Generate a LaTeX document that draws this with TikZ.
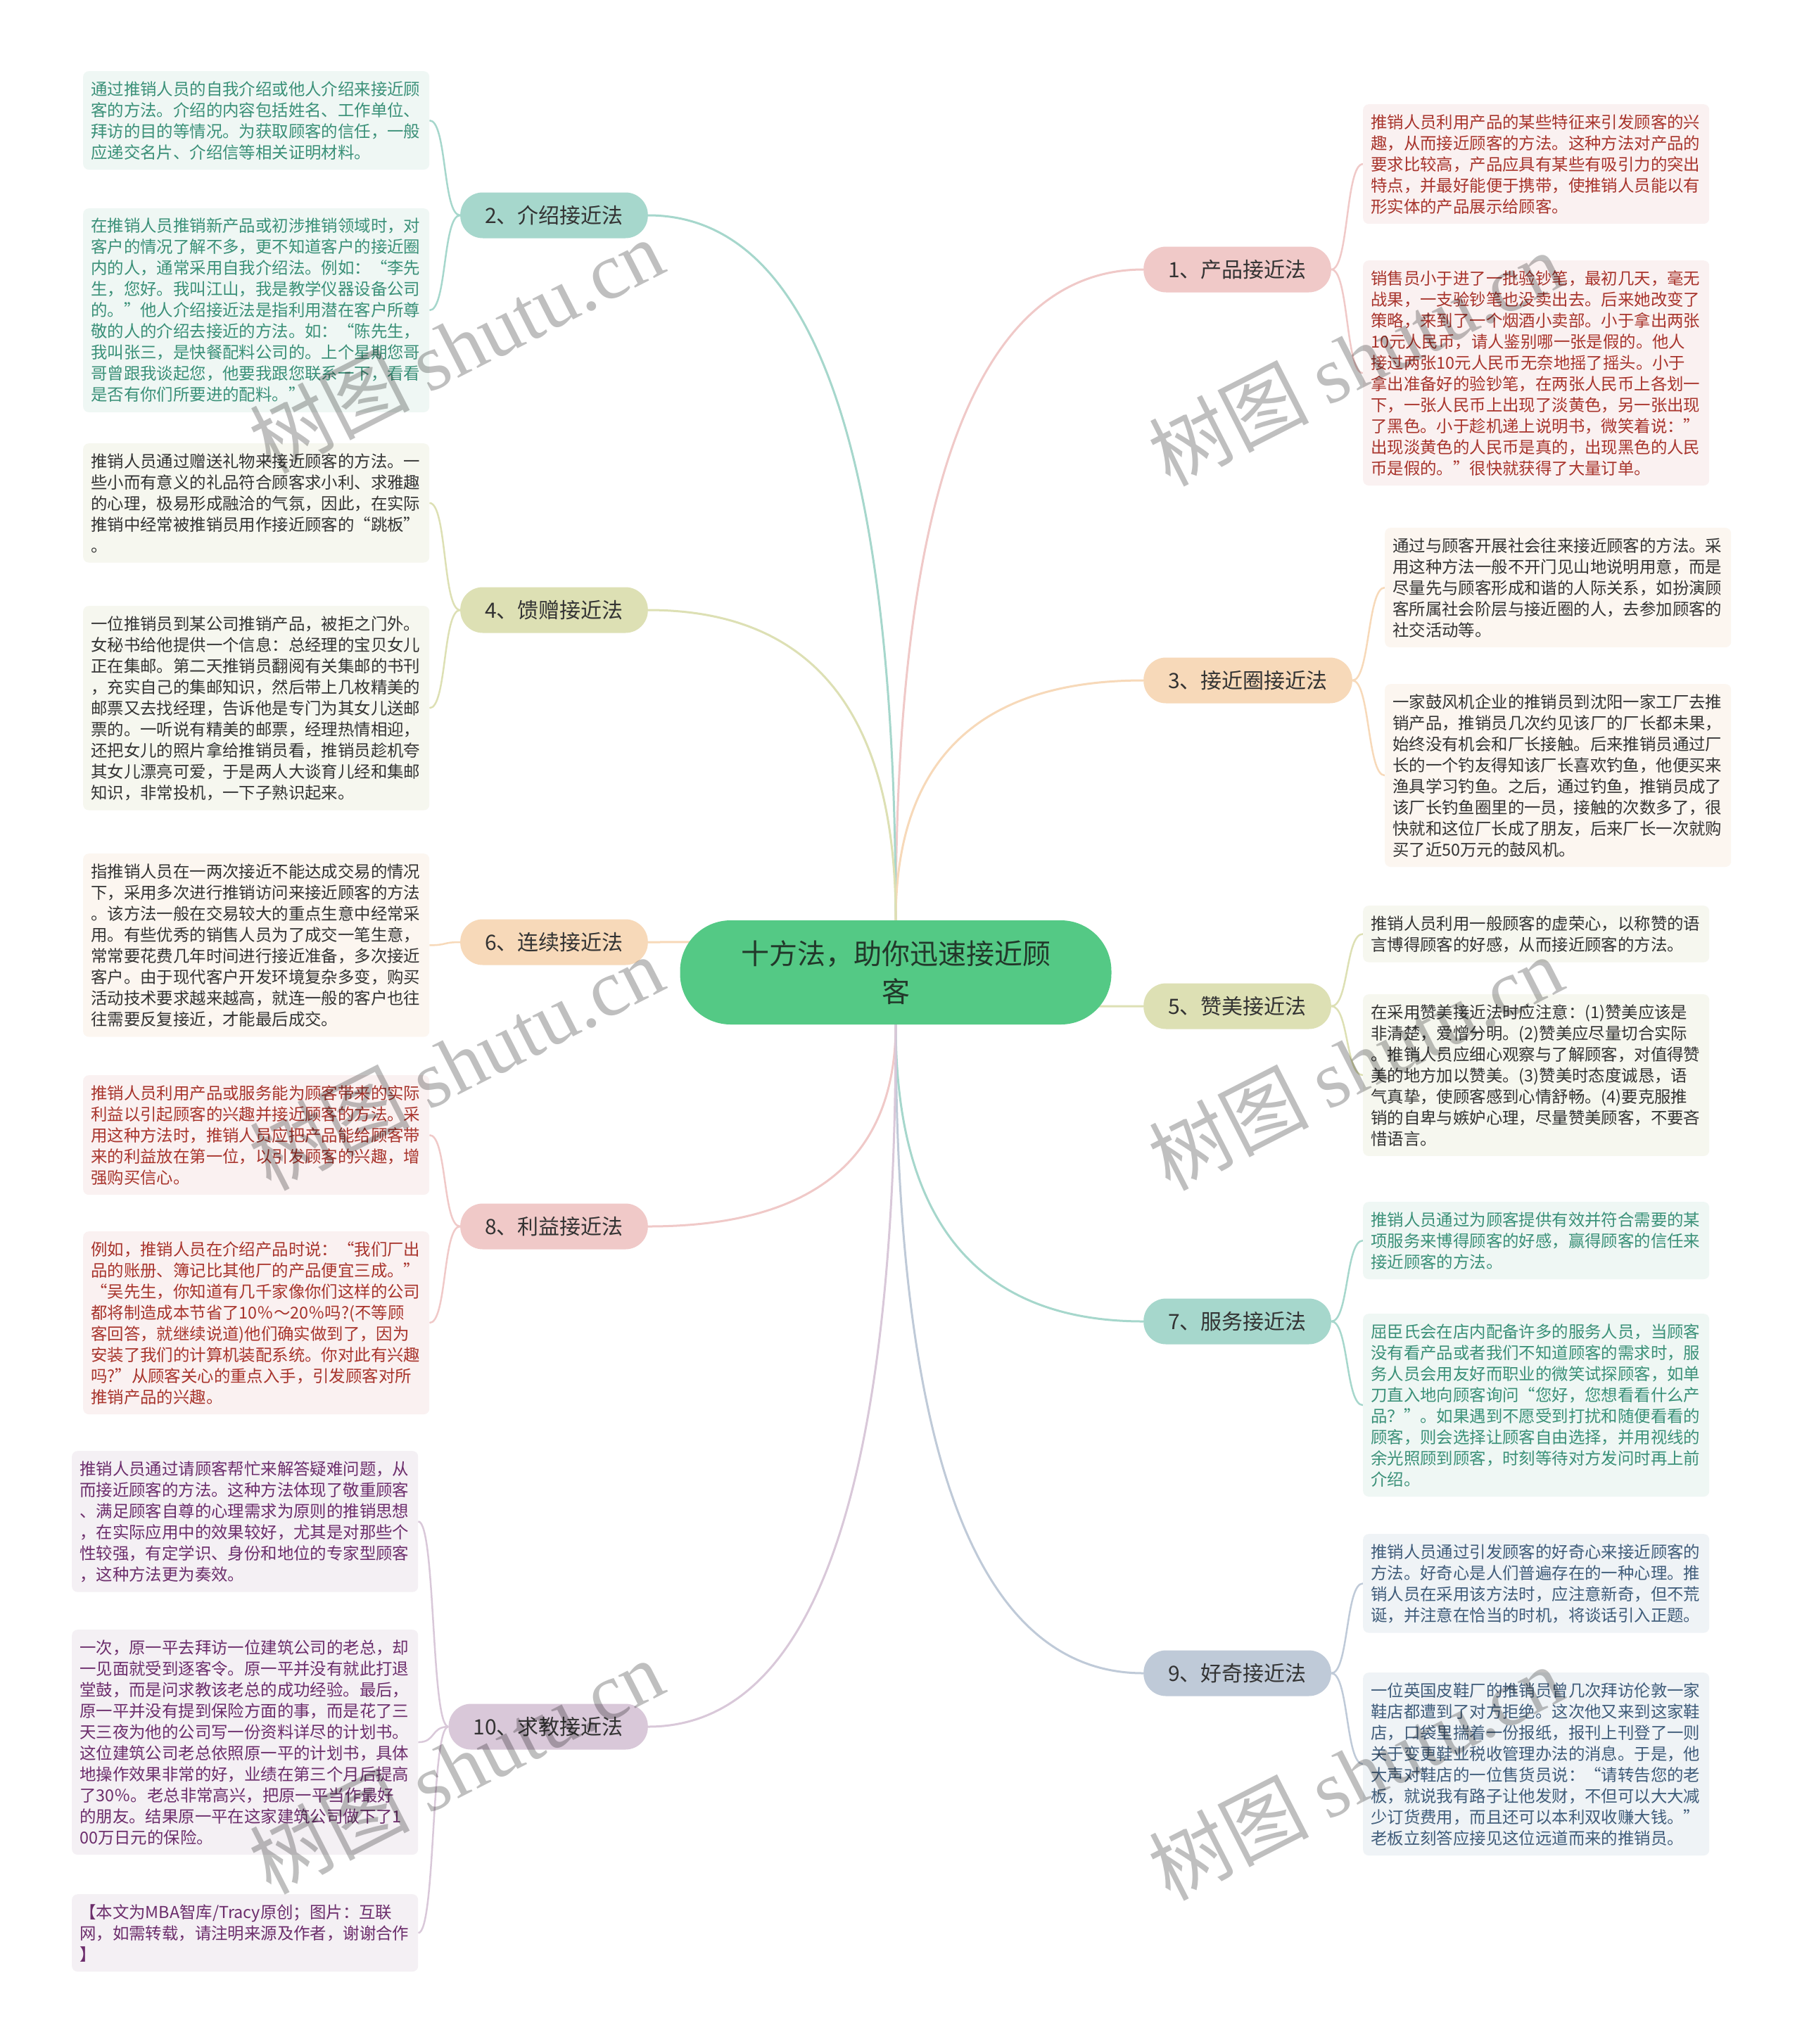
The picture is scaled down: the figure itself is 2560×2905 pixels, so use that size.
\documentclass[tikz,border=0pt]{standalone}
\usepackage{fontspec}
\setmainfont{Noto Sans CJK SC}
\newfontfamily\wmfont{Liberation Serif}
\usetikzlibrary{calc,backgrounds}

%% 配色
\definecolor{rootfill}{HTML}{54C985}
\definecolor{roottext}{HTML}{22382A}
\definecolor{darktext}{HTML}{333333}
\definecolor{pkpill}{HTML}{F0C9C8}
\definecolor{pkfill}{HTML}{FAF1F1}
\definecolor{pktext}{HTML}{A8342C}
\definecolor{tlpill}{HTML}{A6D7CC}
\definecolor{tlfill}{HTML}{EFF7F4}
\definecolor{tltext}{HTML}{3A9078}
\definecolor{pcpill}{HTML}{F7D9B9}
\definecolor{pcfill}{HTML}{FCF6F0}
\definecolor{olpill}{HTML}{DDE0B4}
\definecolor{olfill}{HTML}{F6F7EF}
\definecolor{pppill}{HTML}{D9C8D9}
\definecolor{ppfill}{HTML}{F4F0F4}
\definecolor{pptext}{HTML}{6C2D6C}
\definecolor{blpill}{HTML}{BFCAD8}
\definecolor{blfill}{HTML}{EFF3F6}
\definecolor{bltext}{HTML}{3F5C7A}

\tikzset{
  root/.style={fill=rootfill, rounded corners=72pt, minimum width=613pt,
    minimum height=148pt, text width=450pt, align=center, text=roottext,
    font=\fontsize{40pt}{54pt}\selectfont},
  branch/.style={rounded corners=32pt, minimum height=65pt, inner xsep=35pt,
    inner ysep=0pt, text=darktext, font=\fontsize{30pt}{36pt}\selectfont},
  leaf/.style={anchor=north west, rounded corners=8pt, text width=470pt,
    inner xsep=11pt, inner ysep=14pt, align=left,
    font=\fontsize{23.4pt}{30pt}\selectfont},
  stem/.style={line width=3pt},
  twig/.style={line width=2.5pt},
  wmark/.style={rotate=27, text=black, opacity=0.25,
    font=\fontsize{114pt}{120pt}\selectfont},
}

\begin{document}
\begin{tikzpicture}[x=1pt, y=-1pt]
  \useasboundingbox (0,0) rectangle (2560,2905);

  %% --- 中心 ---
  \node[root] (c) at (1273,1382) {十方法，助你迅速接近顾\\客};

  %% --- 左侧分支 ---
  \node[branch, fill=tlpill, anchor=east] (b2) at (921,306) {2、介绍接近法};
  \node[branch, fill=olpill, anchor=east] (b4) at (921,867) {4、馈赠接近法};
  \node[branch, fill=pcpill, anchor=east] (b6) at (921,1339) {6、连续接近法};
  \node[branch, fill=pkpill, anchor=east] (b8) at (921,1743) {8、利益接近法};
  \node[branch, fill=pppill, anchor=east] (b10) at (921,2454) {10、求教接近法};

  %% --- 右侧分支 ---
  \node[branch, fill=pkpill, anchor=west] (b1) at (1625,383) {1、产品接近法};
  \node[branch, fill=pcpill, anchor=west] (b3) at (1625,967) {3、接近圈接近法};
  \node[branch, fill=olpill, anchor=west] (b5) at (1625,1430) {5、赞美接近法};
  \node[branch, fill=tlpill, anchor=west] (b7) at (1625,1878) {7、服务接近法};
  \node[branch, fill=blpill, anchor=west] (b9) at (1625,2378) {9、好奇接近法};

  %% --- 左侧说明 ---
  \node[leaf, fill=tlfill, text=tltext] (t2a) at (118,101) {通过推销人员的自我介绍或他人介绍来接近顾\\客的方法。介绍的内容包括姓名、工作单位、\\拜访的目的等情况。为获取顾客的信任，一般\\应递交名片、介绍信等相关证明材料。};
  \node[leaf, fill=tlfill, text=tltext] (t2b) at (118,296) {在推销人员推销新产品或初涉推销领域时，对\\客户的情况了解不多，更不知道客户的接近圈\\内的人，通常采用自我介绍法。例如：“李先\\生，您好。我叫江山，我是教学仪器设备公司\\的。”他人介绍接近法是指利用潜在客户所尊\\敬的人的介绍去接近的方法。如：“陈先生，\\我叫张三，是快餐配料公司的。上个星期您哥\\哥曾跟我谈起您，他要我跟您联系一下，看看\\是否有你们所要进的配料。”};
  \node[leaf, fill=olfill, text=darktext] (t4a) at (118,630) {推销人员通过赠送礼物来接近顾客的方法。一\\些小而有意义的礼品符合顾客求小利、求雅趣\\的心理，极易形成融洽的气氛，因此，在实际\\推销中经常被推销员用作接近顾客的“跳板”\\。};
  \node[leaf, fill=olfill, text=darktext] (t4b) at (118,861) {一位推销员到某公司推销产品，被拒之门外。\\女秘书给他提供一个信息：总经理的宝贝女儿\\正在集邮。第二天推销员翻阅有关集邮的书刊\\，充实自己的集邮知识，然后带上几枚精美的\\邮票又去找经理，告诉他是专门为其女儿送邮\\票的。一听说有精美的邮票，经理热情相迎，\\还把女儿的照片拿给推销员看，推销员趁机夸\\其女儿漂亮可爱，于是两人大谈育儿经和集邮\\知识，非常投机，一下子熟识起来。};
  \node[leaf, fill=pcfill, text=darktext] (t6) at (118,1213) {指推销人员在一两次接近不能达成交易的情况\\下，采用多次进行推销访问来接近顾客的方法\\。该方法一般在交易较大的重点生意中经常采\\用。有些优秀的销售人员为了成交一笔生意，\\常常要花费几年时间进行接近准备，多次接近\\客户。由于现代客户开发环境复杂多变，购买\\活动技术要求越来越高，就连一般的客户也往\\往需要反复接近，才能最后成交。};
  \node[leaf, fill=pkfill, text=pktext] (t8a) at (118,1528) {推销人员利用产品或服务能为顾客带来的实际\\利益以引起顾客的兴趣并接近顾客的方法。采\\用这种方法时，推销人员应把产品能给顾客带\\来的利益放在第一位，以引发顾客的兴趣，增\\强购买信心。};
  \node[leaf, fill=pkfill, text=pktext] (t8b) at (118,1750) {例如，推销人员在介绍产品时说：“我们厂出\\品的账册、簿记比其他厂的产品便宜三成。”\\“吴先生，你知道有几千家像你们这样的公司\\都将制造成本节省了10％～20％吗?(不等顾\\客回答，就继续说道)他们确实做到了，因为\\安装了我们的计算机装配系统。你对此有兴趣\\吗?”从顾客关心的重点入手，引发顾客对所\\推销产品的兴趣。};
  \node[leaf, fill=ppfill, text=pptext] (t10a) at (102,2062) {推销人员通过请顾客帮忙来解答疑难问题，从\\而接近顾客的方法。这种方法体现了敬重顾客\\、满足顾客自尊的心理需求为原则的推销思想\\，在实际应用中的效果较好，尤其是对那些个\\性较强，有定学识、身份和地位的专家型顾客\\，这种方法更为奏效。};
  \node[leaf, fill=ppfill, text=pptext] (t10b) at (102,2316) {一次，原一平去拜访一位建筑公司的老总，却\\一见面就受到逐客令。原一平并没有就此打退\\堂鼓，而是问求教该老总的成功经验。最后，\\原一平并没有提到保险方面的事，而是花了三\\天三夜为他的公司写一份资料详尽的计划书。\\这位建筑公司老总依照原一平的计划书，具体\\地操作效果非常的好，业绩在第三个月后提高\\了30％。老总非常高兴，把原一平当作最好\\的朋友。结果原一平在这家建筑公司做下了1\\00万日元的保险。};
  \node[leaf, fill=ppfill, text=pptext] (t10c) at (102,2692) {【本文为MBA智库/Tracy原创；图片：互联\\网，如需转载，请注明来源及作者，谢谢合作\\】};

  %% --- 右侧说明 ---
  \node[leaf, fill=pkfill, text=pktext] (t1a) at (1937,148) {推销人员利用产品的某些特征来引发顾客的兴\\趣，从而接近顾客的方法。这种方法对产品的\\要求比较高，产品应具有某些有吸引力的突出\\特点，并最好能便于携带，使推销人员能以有\\形实体的产品展示给顾客。};
  \node[leaf, fill=pkfill, text=pktext] (t1b) at (1937,370) {销售员小于进了一批验钞笔，最初几天，毫无\\战果，一支验钞笔也没卖出去。后来她改变了\\策略，来到了一个烟酒小卖部。小于拿出两张\\10元人民币，请人鉴别哪一张是假的。他人\\接过两张10元人民币无奈地摇了摇头。小于\\拿出准备好的验钞笔，在两张人民币上各划一\\下，一张人民币上出现了淡黄色，另一张出现\\了黑色。小于趁机递上说明书，微笑着说：”\\出现淡黄色的人民币是真的，出现黑色的人民\\币是假的。”很快就获得了大量订单。};
  \node[leaf, fill=pcfill, text=darktext] (t3a) at (1968,750) {通过与顾客开展社会往来接近顾客的方法。采\\用这种方法一般不开门见山地说明用意，而是\\尽量先与顾客形成和谐的人际关系，如扮演顾\\客所属社会阶层与接近圈的人，去参加顾客的\\社交活动等。};
  \node[leaf, fill=pcfill, text=darktext] (t3b) at (1968,972) {一家鼓风机企业的推销员到沈阳一家工厂去推\\销产品，推销员几次约见该厂的厂长都未果，\\始终没有机会和厂长接触。后来推销员通过厂\\长的一个钓友得知该厂长喜欢钓鱼，他便买来\\渔具学习钓鱼。之后，通过钓鱼，推销员成了\\该厂长钓鱼圈里的一员，接触的次数多了，很\\快就和这位厂长成了朋友，后来厂长一次就购\\买了近50万元的鼓风机。};
  \node[leaf, fill=olfill, text=darktext] (t5a) at (1937,1287) {推销人员利用一般顾客的虚荣心，以称赞的语\\言博得顾客的好感，从而接近顾客的方法。};
  \node[leaf, fill=olfill, text=darktext] (t5b) at (1937,1413) {在采用赞美接近法时应注意：(1)赞美应该是\\非清楚，爱憎分明。(2)赞美应尽量切合实际\\。推销人员应细心观察与了解顾客，对值得赞\\美的地方加以赞美。(3)赞美时态度诚恳，语\\气真挚，使顾客感到心情舒畅。(4)要克服推\\销的自卑与嫉妒心理，尽量赞美顾客，不要吝\\惜语言。};
  \node[leaf, fill=tlfill, text=tltext] (t7a) at (1937,1708) {推销人员通过为顾客提供有效并符合需要的某\\项服务来博得顾客的好感，赢得顾客的信任来\\接近顾客的方法。};
  \node[leaf, fill=tlfill, text=tltext] (t7b) at (1937,1867) {屈臣氏会在店内配备许多的服务人员，当顾客\\没有看产品或者我们不知道顾客的需求时，服\\务人员会用友好而职业的微笑试探顾客，如单\\刀直入地向顾客询问“您好，您想看看什么产\\品？”。如果遇到不愿受到打扰和随便看看的\\顾客，则会选择让顾客自由选择，并用视线的\\余光照顾到顾客，时刻等待对方发问时再上前\\介绍。};
  \node[leaf, fill=blfill, text=bltext] (t9a) at (1937,2180) {推销人员通过引发顾客的好奇心来接近顾客的\\方法。好奇心是人们普遍存在的一种心理。推\\销人员在采用该方法时，应注意新奇，但不荒\\诞，并注意在恰当的时机，将谈话引入正题。};
  \node[leaf, fill=blfill, text=bltext] (t9b) at (1937,2377) {一位英国皮鞋厂的推销员曾几次拜访伦敦一家\\鞋店都遭到了对方拒绝。这次他又来到这家鞋\\店，口袋里揣着一份报纸，报刊上刊登了一则\\关于变更鞋业税收管理办法的消息。于是，他\\大声对鞋店的一位售货员说：“请转告您的老\\板，就说我有路子让他发财，不但可以大大减\\少订货费用，而且还可以本利双收赚大钱。”\\老板立刻答应接见这位远道而来的推销员。};

  %% --- 连线（背景层） ---
  \begin{pgfonlayer}{background}
    \fill[white] (0,0) rectangle (2560,2905);
    %% 中心 → 分支
    \foreach \s/\e/\col in {c.north/b1.west/pkpill, c.north/b2.east/tlpill,
        c.north/b3.west/pcpill, c.north/b4.east/olpill, c.north/b6.east/pcpill,
        c.south/b5.west/olpill, c.south/b7.west/tlpill, c.south/b8.east/pkpill,
        c.south/b9.west/blpill, c.south/b10.east/pppill}
      \draw[stem, \col] (\s) .. controls ($(\s)!2/3!(\s |- \e)$)
        and ($(\e)!2/3!(\s |- \e)$) .. (\e);
    %% 分支 → 说明（左）
    \foreach \b/\t/\col in {b2/t2a/tlpill, b2/t2b/tlpill, b4/t4a/olpill,
        b4/t4b/olpill, b6/t6/pcpill, b8/t8a/pkpill, b8/t8b/pkpill,
        b10/t10a/pppill, b10/t10b/pppill, b10/t10c/pppill}
      \draw[twig, \col] (\b.west) .. controls +(-25,0) and +(25,0) .. (\t.east);
    %% 分支 → 说明（右）
    \foreach \b/\t/\col in {b1/t1a/pkpill, b1/t1b/pkpill, b3/t3a/pcpill,
        b3/t3b/pcpill, b5/t5a/olpill, b5/t5b/olpill, b7/t7a/tlpill,
        b7/t7b/tlpill, b9/t9a/blpill, b9/t9b/blpill}
      \draw[twig, \col] (\b.east) .. controls +(25,0) and +(-25,0) .. (\t.west);
  \end{pgfonlayer}

  %% --- 水印 ---
  \foreach \x/\y [count=\i] in {648/491, 1926/509, 648/1510, 1926/1510,
      648/2510, 1926/2519}
    \node[wmark] (wm\i) at (\x,\y) {树图 {\wmfont shutu.cn}};
\end{tikzpicture}
\end{document}
